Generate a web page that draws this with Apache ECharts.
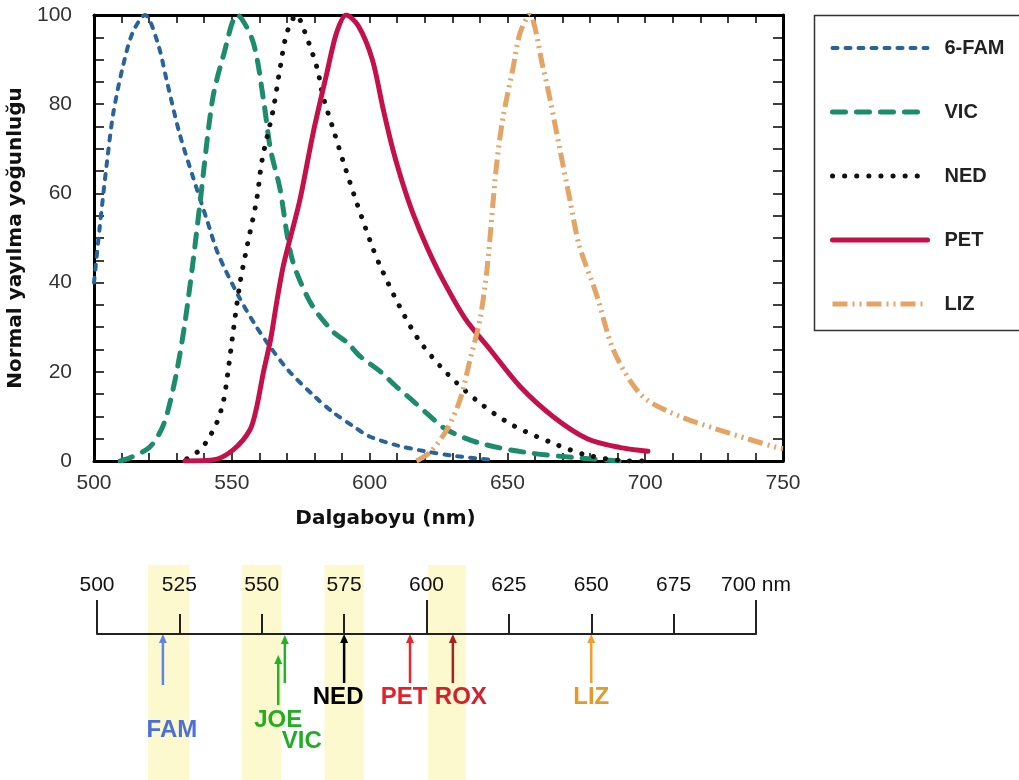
<!DOCTYPE html>
<html>
<head>
<meta charset="utf-8">
<script src="https://cdn.jsdelivr.net/npm/echarts@6/dist/echarts.min.js"></script>
<style>
  html, body { margin: 0; padding: 0; background: #fff; }
  #chart { width: 1019px; height: 780px; }
</style>
</head>
<body>
<div id="chart"></div>
<script>
// Normalised emission spectra, [wavelength nm, intensity %]
const fam6 = [[500,40],[502,52],[504.7,67],[507,78],[510.5,88.5],[514,96],[518.5,100],[523,94],[526.5,85],[531,73.5],[536,63.5],[541,54],[545,46.5],[552,37.5],[558,31],[564,25.5],[571,20],[580,14.5],[587,10.8],[594,7.8],[600,5.5],[610,3.5],[620,2.2],[630,1.2],[645,0.2]];
const vic = [[509.5,0],[513,0.7],[520,3],[524,6.5],[526.5,10.5],[530,20],[533,31],[536,45],[538.5,58],[543,81],[547,91],[552,100],[557.7,94],[561.5,81],[564,70],[567.5,61],[570,51],[572,45],[575,40],[579.5,34.5],[586.7,29],[592,26.5],[596.5,23.5],[604,20],[610,16.5],[615.7,13.5],[622,10],[628,7],[640,4],[658,1.8],[676,0.7],[691,0]];
const ned = [[533.7,0.5],[538.5,2.5],[541.5,5],[544.5,8.5],[547,13.5],[548.5,19.5],[550.5,29],[553,40],[555.5,48],[559,58.5],[561,67.5],[565,78.7],[567.5,88],[570,96],[573.5,100],[576,97],[581,88],[583,82],[587,74],[590.5,67],[595,58.5],[601,48],[604,43.5],[611,34.5],[618,27],[628,19.7],[640,13],[652,8],[666.5,4],[679,1.3],[694.5,0],[700,0]];
const pet = [[533,0],[543,0.2],[550.5,2.5],[556.6,7],[559,12],[561.4,19.7],[564,27],[566.4,36],[568.6,43.5],[571,49.5],[574.7,58.5],[579.5,73.5],[584.5,87],[588,96],[591.5,100],[596,97.5],[601,90],[605,78.7],[608.5,69.7],[612,62.3],[615.7,55.6],[620.8,48],[626.6,40.6],[634.6,32],[643.7,25],[654.6,16.7],[666.5,10],[679,5],[691,3],[701,2.2]];
const liz = [[617,0],[622,2],[628,7],[632.8,13.7],[636.4,22.6],[640,31.6],[642.6,43],[646,66],[648.4,77],[652,88],[654.6,96],[658,100],[663,88],[665.5,81],[669,70],[672.7,58.5],[676,48.5],[682.5,37],[688,25.6],[694.5,18],[700.6,13.7],[712.6,10],[724.6,7.4],[737,5],[748,3],[750,2.8]];

const dyeNames = ['6-FAM', 'VIC', 'NED', 'PET', 'LIZ'];
const dyeSpectra = [fam6, vic, ned, pet, liz];

// Wavelength scale: dye emission markers and highlighted detection bands
const markerNames = ['FAM', 'JOE', 'VIC', 'NED', 'PET', 'ROX', 'LIZ'];
const markerPeaks = [520, 555, 557, 575, 595, 608, 650];
const bandStart = [515.5, 544, 569, 600.5];
const bandEnd = [528, 556, 581, 612];

// ---- styling ----
const dyeLineStyles = [
  { color: '#28639a', width: 4, type: [5, 8], cap: 'round' },
  { color: '#1d8c6c', width: 5, type: [13, 11], cap: 'round' },
  { color: '#111111', width: 5, type: [0.1, 12], cap: 'round' },
  { color: '#c4114a', width: 5, type: 'solid', cap: 'round' },
  { color: '#e3a465', width: 5, type: [15, 5, 2, 5, 2, 5], cap: 'butt' }
];

const SCALE_TOP = 565, SCALE_BOTTOM = 780, SCALE_AXIS_Y = 634;
const markerStyle = {
  FAM: { text: '#4d6fd8', arrow: '#6283e6', dx: 9,  labelY: 730, tail: 51, head: 0 },
  JOE: { text: '#22ad22', arrow: '#22b522', dx: 0,  labelY: 720, tail: 71, head: 21 },
  VIC: { text: '#22ad22', arrow: '#22b522', dx: 17, labelY: 741, tail: 49, head: 1 },
  NED: { text: '#000000', arrow: '#000000', dx: -6, labelY: 697, tail: 49, head: 0 },
  PET: { text: '#e81f28', arrow: '#e8262e', dx: -6, labelY: 697, tail: 49, head: 0 },
  ROX: { text: '#d4202a', arrow: '#a82020', dx: 8,  labelY: 697, tail: 49, head: 0 },
  LIZ: { text: '#e39a28', arrow: '#f0a030', dx: 0,  labelY: 697, tail: 49, head: 0 }
};

const sans = '"Liberation Sans", Arial, Helvetica, sans-serif';
const boldTitle = '"DejaVu Sans", Verdana, sans-serif';

const frameAxis = (extra) => Object.assign({
  axisLine: { onZero: false, lineStyle: { color: '#000', width: 3 } },
  splitLine: { show: false },
  minorSplitLine: { show: false }
}, extra);

const chart = echarts.init(document.getElementById('chart'), null, { renderer: 'canvas' });

chart.setOption({
  animation: false,
  backgroundColor: '#fff',
  grid: [
    { left: 94, top: 15, width: 689, height: 446, outerBoundsMode: 'none', containLabel: false },
    { left: 97, top: SCALE_TOP, width: 659, height: SCALE_BOTTOM - SCALE_TOP, outerBoundsMode: 'none', containLabel: false }
  ],
  legend: {
    orient: 'vertical',
    left: 825, top: 33,
    itemWidth: 95, itemHeight: 20, itemGap: 44,
    selectedMode: false,
    data: dyeNames,
    itemStyle: { opacity: 0 },
    lineStyle: { width: 'inherit' },
    textStyle: {
      fontFamily: sans, fontWeight: 'bold', fontSize: 20, color: '#222',
      lineHeight: 20, padding: [0, 0, 0, 12]
    }
  },
  graphic: [
    { type: 'rect', left: 812, top: 13, shape: { width: 225, height: 315 },
      style: { fill: 'none', stroke: '#333', lineWidth: 1.5 }, z: 0 }
  ],
  xAxis: [
    frameAxis({
      gridIndex: 0, type: 'value', position: 'bottom', min: 500, max: 750, interval: 50,
      name: 'Dalgaboyu (nm)', nameLocation: 'middle', nameGap: 48,
      nameTextStyle: { fontFamily: boldTitle, fontWeight: 'bold', fontSize: 20, color: '#111', padding: [0, 106, 0, 0] },
      axisTick: { inside: true, length: 8, lineStyle: { color: '#000', width: 1.5 } },
      minorTick: { show: true, splitNumber: 5, length: 8, lineStyle: { color: '#000', width: 1.5 } },
      axisLabel: { margin: 12, fontFamily: sans, fontSize: 21, color: '#333' }
    }),
    frameAxis({
      gridIndex: 0, type: 'value', position: 'top', min: 500, max: 750, interval: 50,
      axisTick: { inside: true, length: 8, lineStyle: { color: '#000', width: 1.5 } },
      minorTick: { show: true, splitNumber: 5, length: 8, lineStyle: { color: '#000', width: 1.5 } },
      axisLabel: { show: false }
    }),
    {
      gridIndex: 1, type: 'value', position: 'bottom', offset: SCALE_AXIS_Y - SCALE_BOTTOM,
      min: 500, max: 700, interval: 25, z: 10,
      axisLine: { onZero: false, lineStyle: { color: '#222', width: 2 } },
      axisTick: { inside: true, length: 20, lineStyle: { color: '#222', width: 2 } },
      axisLabel: {
        inside: true, margin: 38, fontFamily: sans,
        fontSize: 21, color: '#111',
        formatter: (v) => (v === 700 ? '700 nm' : String(v))
      },
      splitLine: { show: false }
    },
    {
      gridIndex: 1, type: 'value', position: 'bottom', offset: SCALE_AXIS_Y - SCALE_BOTTOM,
      min: 500, max: 700, interval: 100, z: 10,
      axisLine: { show: false, onZero: false },
      axisTick: { inside: true, length: 34, lineStyle: { color: '#222', width: 2 } },
      axisLabel: { show: false },
      splitLine: { show: false }
    }
  ],
  yAxis: [
    frameAxis({
      gridIndex: 0, type: 'value', position: 'left', min: 0, max: 100, interval: 20,
      name: 'Normal yayılma yoğunluğu', nameLocation: 'middle', nameGap: 64,
      nameTextStyle: { fontFamily: boldTitle, fontWeight: 'bold', fontSize: 20, color: '#111' },
      axisTick: { inside: true, length: 10, lineStyle: { color: '#000', width: 1.5 } },
      minorTick: { show: true, splitNumber: 4, length: 10, lineStyle: { color: '#000', width: 1.5 } },
      axisLabel: { margin: 22, fontFamily: sans, fontSize: 21, color: '#333' }
    }),
    frameAxis({
      gridIndex: 0, type: 'value', position: 'right', min: 0, max: 100, interval: 20,
      axisTick: { inside: true, length: 10, lineStyle: { color: '#000', width: 1.5 } },
      minorTick: { show: true, splitNumber: 4, length: 10, lineStyle: { color: '#000', width: 1.5 } },
      axisLabel: { show: false }
    }),
    { gridIndex: 1, type: 'value', min: 0, max: 1, show: false }
  ],
  series: dyeNames.map((name, i) => ({
    name: name,
    type: 'line',
    xAxisIndex: 0, yAxisIndex: 0,
    data: dyeSpectra[i],
    smooth: 0.3,
    symbol: 'none',
    color: dyeLineStyles[i].color,
    lineStyle: dyeLineStyles[i],
    z: 3
  })).concat([{
    name: 'markers',
    type: 'custom',
    xAxisIndex: 2, yAxisIndex: 2,
    clip: false,
    data: markerPeaks.map((p) => [p, 0]),
    renderItem: (params, api) => {
      const label = markerNames[params.dataIndex];
      const st = markerStyle[label];
      const x = api.coord([api.value(0), 0])[0];
      const head = SCALE_AXIS_Y + st.head;
      const tail = SCALE_AXIS_Y + st.tail;
      return {
        type: 'group',
        children: [
          { type: 'line', shape: { x1: x, y1: tail, x2: x, y2: head + 6 },
            style: { stroke: st.arrow, lineWidth: 2.5 } },
          { type: 'polygon', shape: { points: [[x, head], [x - 4, head + 9], [x + 4, head + 9]] },
            style: { fill: st.arrow } },
          { type: 'text', x: x + st.dx, y: st.labelY,
            style: { text: label, fill: st.text, align: 'center', verticalAlign: 'middle',
                     font: 'bold 24px "Liberation Sans", Arial, sans-serif' } }
        ]
      };
    },
    markArea: {
      silent: true,
      itemStyle: { color: '#fcf9cf' },
      data: bandStart.map((s, i) => [{ xAxis: s }, { xAxis: bandEnd[i] }])
    },
    z: 2
  }])
});
</script>
</body>
</html>
